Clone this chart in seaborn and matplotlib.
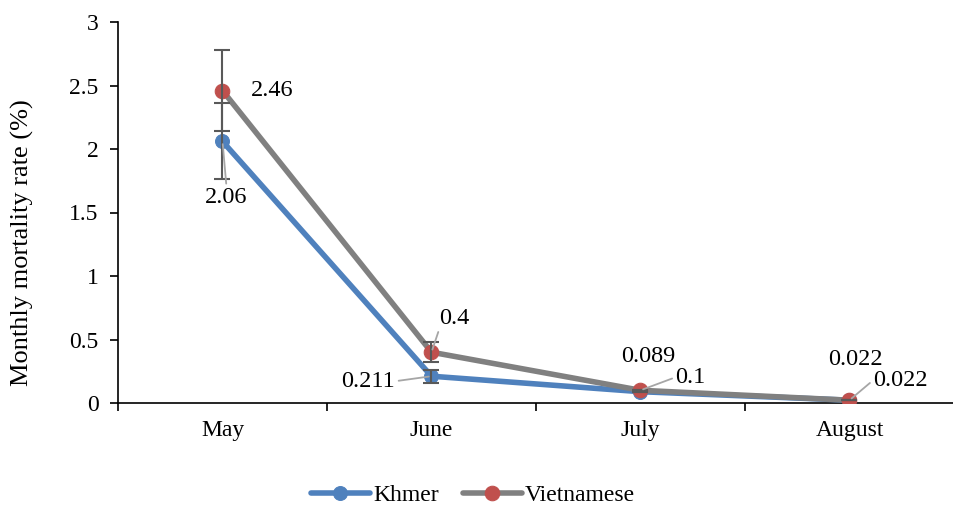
import matplotlib
matplotlib.use("Agg")
import matplotlib.pyplot as plt
import seaborn as sns
import pandas as pd

months = ["May", "June", "July", "August"]
khmer = [2.06, 0.211, 0.089, 0.022]
vietnamese = [2.46, 0.4, 0.1, 0.022]
khmer_err = [0.30, 0.05, 0.0, 0.0]
vietnamese_err = [0.32, 0.08, 0.0, 0.0]
khmer_labels = ["2.06", "0.211", "0.089", "0.022"]
vietnamese_labels = ["2.46", "0.4", "0.1", "0.022"]
yticks = [0, 0.5, 1, 1.5, 2, 2.5, 3]
ytick_labels = ["0", "0.5", "1", "1.5", "2", "2.5", "3"]

sns.set_style("white")
plt.rcParams["font.family"] = ["Liberation Serif", "DejaVu Serif"]
plt.rcParams["font.size"] = 17
plt.rcParams["text.color"] = "black"
plt.rcParams["axes.labelcolor"] = "black"
plt.rcParams["xtick.color"] = "black"
plt.rcParams["ytick.color"] = "black"

BLUE = "#4F81BD"
GRAY = "#808080"
RED = "#C0504D"
LEADER = "#A6A6A6"
FS = 17
DFS = 17.5

df = pd.DataFrame({
    "month": months * 2,
    "rate": khmer + vietnamese,
    "group": ["Khmer"] * 4 + ["Vietnamese"] * 4,
})

fig = plt.figure(figsize=(9.54, 5.08), dpi=100)
ax = fig.add_axes([118 / 954, 1 - 403 / 508, 1 - 118 / 954, (403 - 22) / 508])

sns.lineplot(data=df[df.group == "Khmer"], x="month", y="rate", ax=ax,
             color=BLUE, lw=4, marker="o", markersize=10,
             markerfacecolor=BLUE, markeredgecolor=BLUE, sort=False,
             label="Khmer", zorder=3, legend=False)
sns.lineplot(data=df[df.group == "Vietnamese"], x="month", y="rate", ax=ax,
             color=GRAY, lw=4, marker="o", markersize=10.5,
             markerfacecolor=RED, markeredgecolor=RED, sort=False,
             label="Vietnamese", zorder=4, legend=False)

pos = list(range(len(months)))
ax.errorbar(pos, khmer, yerr=khmer_err, fmt="none", ecolor="#595959",
            elinewidth=1.5, capsize=6, capthick=1.5, zorder=5)
ax.errorbar(pos, vietnamese, yerr=vietnamese_err, fmt="none", ecolor="#595959",
            elinewidth=1.5, capsize=6, capthick=1.5, zorder=5)

ax.set_xlim(-0.5, -0.5 + (954 - 118) / 210)
ax.set_ylim(0, 3)
ax.set_yticks(yticks)
ax.set_yticklabels(ytick_labels)
ax.set_xticks([p + 0.5 for p in [-1] + pos])
ax.set_xticklabels([])
ax.set_xticks(pos, minor=True)
ax.set_xticklabels(months, minor=True)
ax.tick_params(axis="x", which="major", bottom=True, length=6, width=1.2, direction="out")
ax.tick_params(axis="x", which="minor", bottom=True, length=0, pad=12, labelsize=FS)
ax.tick_params(axis="y", left=True, length=6, width=1.2, direction="out", labelsize=FS, pad=8)
ax.set_xlabel("")
ax.set_ylabel("Monthly mortality rate (%)", fontsize=19)
ax.yaxis.set_label_coords(-0.101, 0.42)
for s in ["top", "right"]:
    ax.spines[s].set_visible(False)
for s in ["left", "bottom"]:
    ax.spines[s].set_color("black")
    ax.spines[s].set_linewidth(1.2)

# data labels: offsets in pixels (dx, dy upward), leader relpos or None
k_off = [((4, -56), (0.5, 1.0)), ((-63, -5), (1.0, 0.5)), ((8, 35), None), ((6, 41), None)]
v_off = [((50, 0), None), ((23, 34), (0.0, 0.0)), ((50, 13), (0.0, 0.5)), ((51, 20), (0.0, 0.5))]
for series, labels, offs in [(khmer, khmer_labels, k_off), (vietnamese, vietnamese_labels, v_off)]:
    for i, (val, lab, (off, rel)) in enumerate(zip(series, labels, offs)):
        kw = {}
        if rel is not None:
            kw["arrowprops"] = dict(arrowstyle="-", color=LEADER, lw=1.3,
                                    shrinkA=0, shrinkB=2, relpos=rel)
        ax.annotate(lab, xy=(i, val), xytext=off, textcoords="offset pixels",
                    ha="center", va="center", fontsize=DFS, zorder=6, **kw)

handles, labels = ax.get_legend_handles_labels()
fig.legend(handles, labels, loc="center", bbox_to_anchor=(473 / 954, 1 - 495 / 508),
           ncol=2, frameon=False, fontsize=FS, handlelength=2.5,
           columnspacing=1.0, handletextpad=0.15)

fig.savefig("out.png", dpi=100)
